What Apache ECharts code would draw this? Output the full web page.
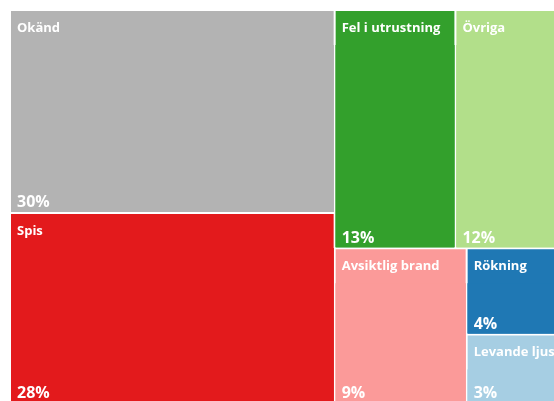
<!DOCTYPE html>
<html>
<head>
<meta charset="utf-8">
<script src="https://cdn.jsdelivr.net/npm/echarts@6/dist/echarts.min.js"></script>
<style>
  html, body { margin: 0; padding: 0; background: #fff; }
  #chart { width: 554px; height: 401px; }
</style>
</head>
<body>
<div id="chart"></div>
<script>
// brandorsaker, andel i procent
var categories = ["Okänd", "Spis", "Fel i utrustning", "Övriga", "Avsiktlig brand", "Rökning", "Levande ljus"];
var values = [30.0, 28.1, 13.1, 12.0, 9.3, 3.9, 3.1];
var colors = ["#b3b3b3", "#e31a1c", "#33a02c", "#b2df8a", "#fb9a99", "#1f78b4", "#a6cee3"];

var fontFamily = "Open Sans";

// varje ruta = förälder (namn uppe) + ett barn (procent nere)
var data = categories.map(function (name, i) {
  return {
    name: name,
    value: values[i],
    itemStyle: { borderColor: colors[i] },
    children: [
      {
        name: name,
        value: values[i],
        itemStyle: { color: colors[i], borderColor: colors[i] },
      },
    ],
  };
});

var myChart = echarts.init(document.getElementById("chart"), null, {
  renderer: "canvas",
});

var option = {
  animation: false,
  series: [
    {
      type: "treemap",
      left: 11,
      top: 11,
      width: 554,
      height: 391,
      roam: false,
      nodeClick: false,
      breadcrumb: { show: false },
      data: data,
      levels: [
        {
          itemStyle: { borderWidth: 0, gapWidth: 2, borderColor: "#fff" },
          upperLabel: { show: false },
        },
        {
          itemStyle: { borderWidth: 0, gapWidth: 0 },
          upperLabel: {
            show: true,
            height: 34,
            position: "insideLeft",
            distance: 6,
            padding: 0,
            color: "#fff",
            fontFamily: fontFamily,
            fontWeight: "bold",
            fontSize: 13,
            overflow: "none",
          },
        },
        {
          itemStyle: { borderWidth: 0, gapWidth: 0 },
          label: {
            show: true,
            position: "insideBottomLeft",
            distance: 6,
            padding: [0, 0, -5, 0],
            color: "#fff",
            fontFamily: fontFamily,
            fontWeight: "bold",
            fontSize: 16,
            overflow: "none",
            formatter: function (p) {
              return Math.round(p.value) + "%";
            },
          },
        },
      ],
    },
  ],
};

myChart.setOption(option);
</script>
</body>
</html>
